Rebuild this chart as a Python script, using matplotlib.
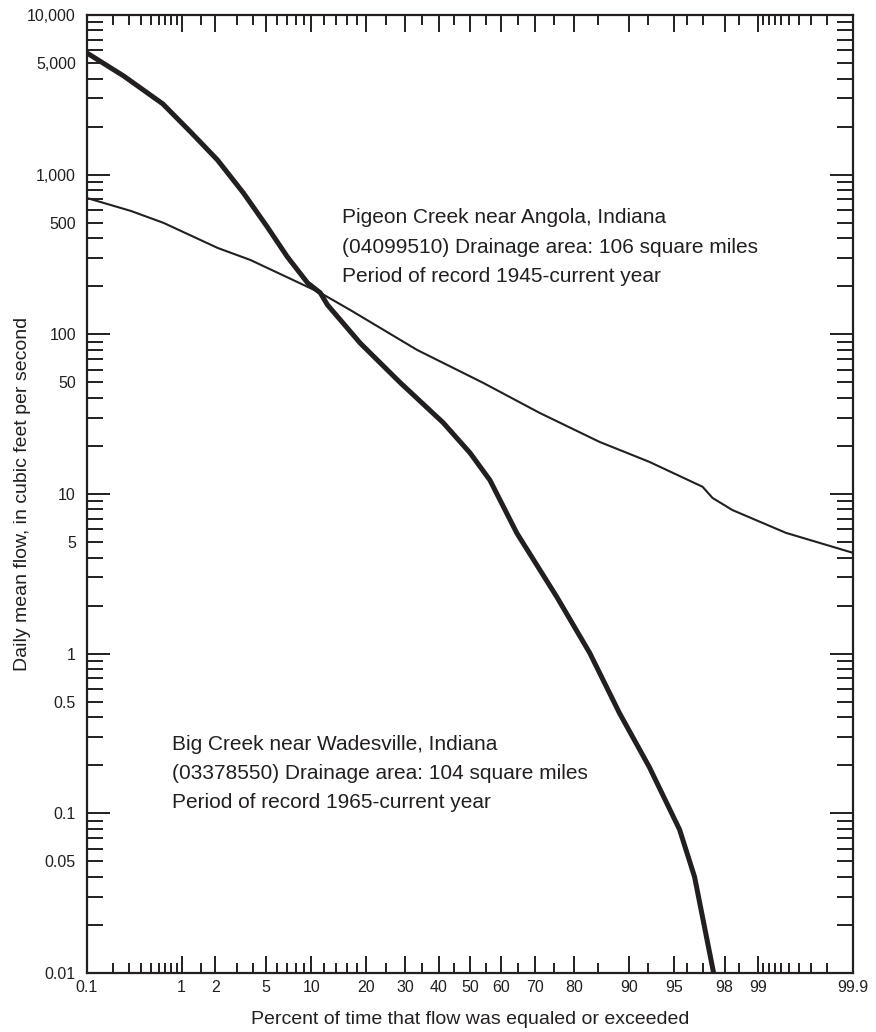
import numpy as np
import matplotlib
matplotlib.use('Agg')
import matplotlib.pyplot as plt
from matplotlib.ticker import FixedLocator, FuncFormatter
from statistics import NormalDist

plt.rcParams['font.family'] = ['Liberation Sans', 'DejaVu Sans']

ink = '#231f20'

# flow-duration data: percent exceeded, flow (cfs)
big_pct = [0.1, 0.26, 0.66, 1.21, 2.08, 3.38, 5.1, 7.04, 9.5, 11.35, 12.5, 18.8,
           28.6, 41.4, 50, 56.4, 64.7, 75.8, 83.3, 88.6, 92.6, 95.46, 96.5, 97.6]
big_flow = [5780, 4150, 2775, 1850, 1236, 767, 470, 305, 210, 182, 153, 88,
            50, 28, 18.1, 12.2, 5.7, 2.27, 1.01, 0.425, 0.195, 0.079, 0.040, 0.009]

pig_pct = [0.1, 0.31, 0.67, 2.08, 3.83, 11.35, 16.7, 33.5, 54.2, 71.3, 85.2,
           88.6, 92.6, 96.97, 97.48, 98.29, 99.46, 99.9]
pig_flow = [714, 593, 499, 348, 292, 182, 142, 79.8, 49.7, 32.2, 21.2,
            18.9, 15.9, 11.1, 9.45, 7.93, 5.71, 4.28]

x_major = [0.1, 1, 2, 5, 10, 20, 30, 40, 50, 60, 70, 80, 90, 95, 98, 99, 99.9]
x_minor = [0.2, 0.3, 0.4, 0.5, 0.6, 0.7, 0.8, 0.9, 1.5, 3, 4, 6, 7, 8, 9,
           12, 14, 16, 18, 25, 35, 45, 55, 65, 75, 85, 92.5, 96, 97, 98.5,
           99.1, 99.2, 99.3, 99.4, 99.5, 99.6, 99.7, 99.8]
x_labels = ['0.1', '1', '2', '5', '10', '20', '30', '40', '50', '60', '70', '80',
            '90', '95', '98', '99', '99.9']

y_major = [0.01, 0.1, 1, 10, 100, 1000, 10000]
y_minor = [m * d for d in [0.01, 0.1, 1, 10, 100, 1000] for m in range(2, 10)]

nd = NormalDist()


def fwd(p):
    p = np.clip(np.asarray(p, dtype=float) / 100.0, 1e-9, 1 - 1e-9)
    return np.array([nd.inv_cdf(v) for v in p.ravel()]).reshape(p.shape)


def inv(z):
    z = np.asarray(z, dtype=float)
    return np.array([nd.cdf(v) * 100.0 for v in z.ravel()]).reshape(z.shape)


def ylab(v, pos=None):
    if v >= 1:
        return f'{int(round(v)):,}'
    return f'{v:g}'


def ylab_minor(v, pos=None):
    lead = v / 10 ** np.floor(np.log10(v) + 1e-9)
    if abs(lead - 5) < 1e-6:
        return ylab(v)
    return ''


fig = plt.figure(figsize=(8.76, 10.32), dpi=100)
ax = fig.add_axes([87 / 876, 1 - 973 / 1032, (853 - 87) / 876, (973 - 15) / 1032])

ax.plot(big_pct, big_flow, color=ink, lw=3.6, solid_joinstyle='round')
ax.plot(pig_pct, pig_flow, color=ink, lw=1.5, solid_joinstyle='round')

ax.set_xscale('function', functions=(fwd, inv))
ax.set_yscale('log')
ax.set_xlim(0.1, 99.9)
ax.set_ylim(0.01, 10000)

ax.xaxis.set_major_locator(FixedLocator(x_major))
ax.xaxis.set_minor_locator(FixedLocator(x_minor))
ax.set_xticklabels(x_labels)
ax.xaxis.set_minor_formatter(FuncFormatter(lambda v, p: ''))

ax.yaxis.set_major_locator(FixedLocator(y_major))
ax.yaxis.set_minor_locator(FixedLocator(y_minor))
ax.yaxis.set_major_formatter(FuncFormatter(ylab))
ax.yaxis.set_minor_formatter(FuncFormatter(ylab_minor))

ax.tick_params(axis='x', which='both', direction='in', top=True, bottom=True,
               color=ink, width=1.4, labelsize=11.5, labelcolor=ink, pad=5)
ax.tick_params(axis='x', which='major', length=12.5)
ax.tick_params(axis='x', which='minor', length=7.5)
ax.tick_params(axis='y', which='both', direction='in', left=True, right=True,
               color=ink, width=1.4, labelsize=11.5, labelcolor=ink, pad=8)
ax.tick_params(axis='y', which='major', length=16.5)
ax.tick_params(axis='y', which='minor', length=11.5)

for s in ax.spines.values():
    s.set_linewidth(1.6)
    s.set_color(ink)

fig.text(470 / 876, 1 - 1019 / 1032, 'Percent of time that flow was equaled or exceeded',
         ha='center', va='center', fontsize=14, color=ink)
fig.text(23 / 876, 1 - 494 / 1032, 'Daily mean flow, in cubic feet per second',
         ha='center', va='center', rotation=90, fontsize=14, color=ink)

pig_text = ['Pigeon Creek near Angola, Indiana',
            '(04099510) Drainage area: 106 square miles',
            'Period of record 1945-current year']
for i, t in enumerate(pig_text):
    fig.text(342 / 876, 1 - (218 + 29.5 * i) / 1032, t, ha='left', va='center',
             fontsize=15, color=ink)

big_text = ['Big Creek near Wadesville, Indiana',
            '(03378550) Drainage area: 104 square miles',
            'Period of record 1965-current year']
for i, t in enumerate(big_text):
    fig.text(172 / 876, 1 - (745 + 28.5 * i) / 1032, t, ha='left', va='center',
             fontsize=15, color=ink)

fig.savefig('out.png', dpi=100)
